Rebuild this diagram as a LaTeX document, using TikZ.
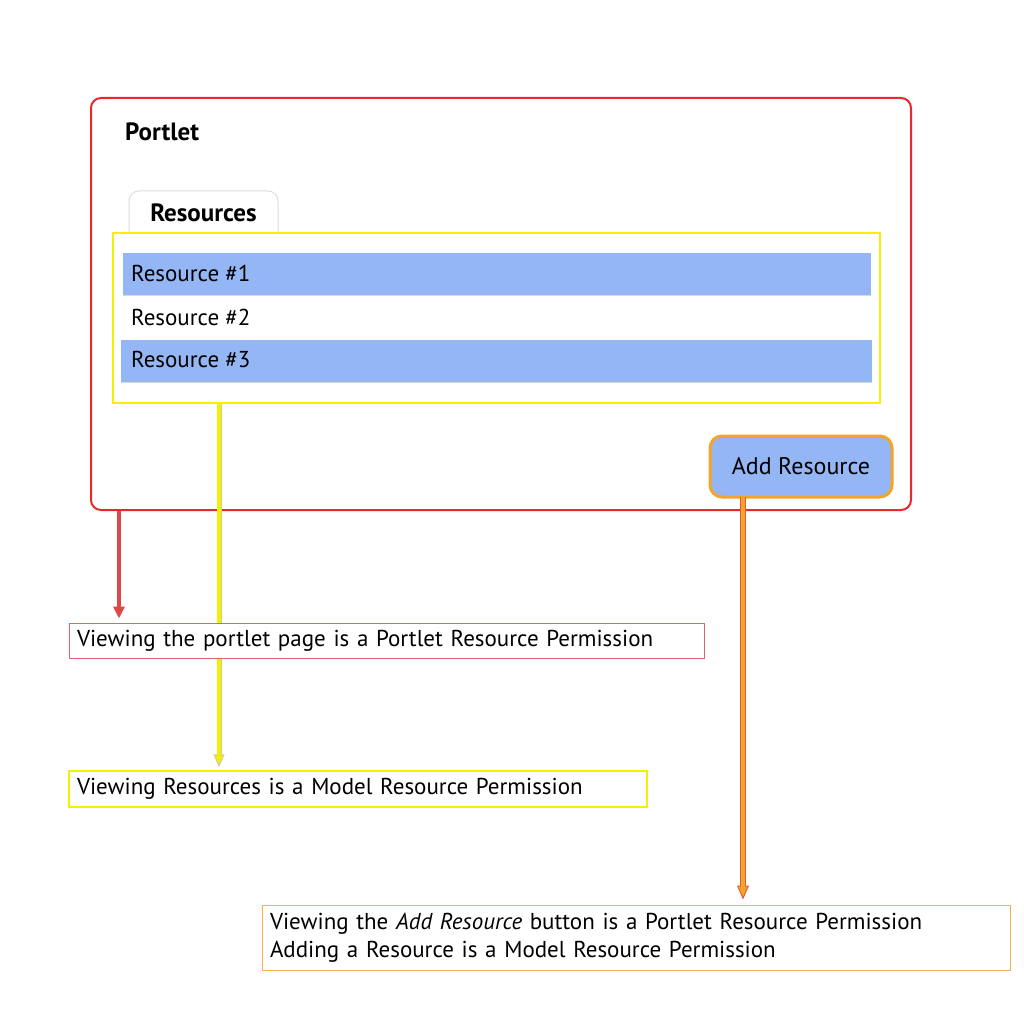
\documentclass[tikz,border=0pt]{standalone}
\usepackage{fontspec}
\setmainfont{PT Sans}
\usetikzlibrary{shadows,arrows.meta}
\definecolor{portred}{RGB}{232,40,44}
\definecolor{yel}{RGB}{244,240,0}
\definecolor{bluefill}{RGB}{148,182,244}
\definecolor{orangeb}{RGB}{242,165,42}
\definecolor{redarr}{RGB}{224,72,72}
\definecolor{box1c}{RGB}{226,96,104}
\definecolor{box3c}{RGB}{242,176,80}
\definecolor{tabgray}{RGB}{221,221,221}
\definecolor{yedge}{RGB}{205,205,160}
\definecolor{oedge}{RGB}{230,90,60}
\pgfdeclarelayer{top}
\pgfsetlayers{main,top}
\tikzset{
  txt/.style={font=\fontsize{23}{30}\selectfont, inner sep=0pt},
  boldtxt/.style={font=\fontsize{25}{30}\selectfont\bfseries, inner sep=0pt},
  softshadow/.style={drop shadow={shadow xshift=0pt, shadow yshift=-1pt, opacity=0.15, fill=black}},
  bar/.style={fill=bluefill, minimum width=748pt, minimum height=42pt, inner sep=0pt, softshadow},
  notebox/.style={draw, fill=white, line width=1pt, inner xsep=8pt, inner ysep=0pt, align=left,
    font=\fontsize{23}{28}\selectfont, softshadow},
  redarrow/.style={draw=redarr, line width=3.5pt, -{Triangle[length=12pt,width=11pt]}},
  yelarrow/.style={draw=yedge, line width=5pt, -{Triangle[length=13pt,width=11pt,line width=1pt,fill=yel]}},
  yelinner/.style={draw=yel, line width=3.2pt},
  orarrow/.style={draw=oedge, line width=6pt, -{Triangle[length=14pt,width=12pt,line width=1pt,fill=orangeb]}},
  orinner/.style={draw=orangeb, line width=4pt},
}
\begin{document}
\begin{tikzpicture}[x=1pt,y=-1pt]
\useasboundingbox (0,0) rectangle (1024,1024);
\fill[white] (0,0) rectangle (1024,1024);
% portlet frame
\node[draw=portred, line width=2pt, rounded corners=10pt, minimum width=820pt, minimum height=412pt, inner sep=0pt] (portlet) at (501,304) {};
\node[boldtxt, anchor=west] (ptitle) at (125,132) {Portlet};
% tab
\draw[tabgray, fill=white, line width=1pt, rounded corners=10pt, softshadow] (129,233) -- (129,191) -- (278,191) -- (278,233);
\node[boldtxt] (tabtext) at (203.5,213) {Resources};
% yellow list frame
\node[draw=yel, line width=2pt, fill=white, minimum width=767pt, minimum height=170pt, inner sep=0pt] (list) at (496.5,318) {};
\node[bar] (r1) at (497,274) {};
\node[txt, anchor=west] (r1t) at (131,273) {Resource \#1};
\node[txt, anchor=west] (r2t) at (131,317) {Resource \#2};
\node[bar, minimum width=751pt] (r3) at (496.5,361) {};
\node[txt, anchor=west] (r3t) at (131,359) {Resource \#3};
% add button
\node[draw=orangeb, fill=bluefill, line width=3pt, rounded corners=12pt, minimum width=182pt, minimum height=61pt, inner sep=0pt, txt, font=\fontsize{24}{30}\selectfont] (add) at (801,466.5) {Add Resource};
% note boxes
\begin{pgfonlayer}{top}
\node[notebox, draw=box1c, text width=619pt, minimum height=35pt] (b1) at (386.5,640.5) {Viewing the portlet page is a Portlet Resource Permission};
\node[notebox, draw=yel, line width=1.5pt, text width=562pt, minimum height=36pt] (b2) at (358,789) {Viewing Resources is a Model Resource Permission};
\node[notebox, draw=box3c, text width=732pt, minimum height=65pt] (b3) at (636,937.5) {Viewing the \textit{Add Resource} button is a Portlet Resource Permission\\Adding a Resource is a Model Resource Permission};
\end{pgfonlayer}
% connectors
\coordinate (ra) at (119,511);
\draw[redarrow, shorten >=4pt] (ra) -- (ra |- b1.north);
\coordinate (ya) at (219,404);
\draw[yelarrow, shorten >=3pt] (ya) -- (ya |- b2.north);
\draw[yelinner, shorten >=15pt] (ya) -- (ya |- b2.north);
\coordinate (oa) at (743,497);
\draw[orarrow, shorten >=5pt] (oa) -- (oa |- b3.north);
\draw[orinner, shorten >=18pt] (oa) -- (oa |- b3.north);
\end{tikzpicture}
\end{document}
